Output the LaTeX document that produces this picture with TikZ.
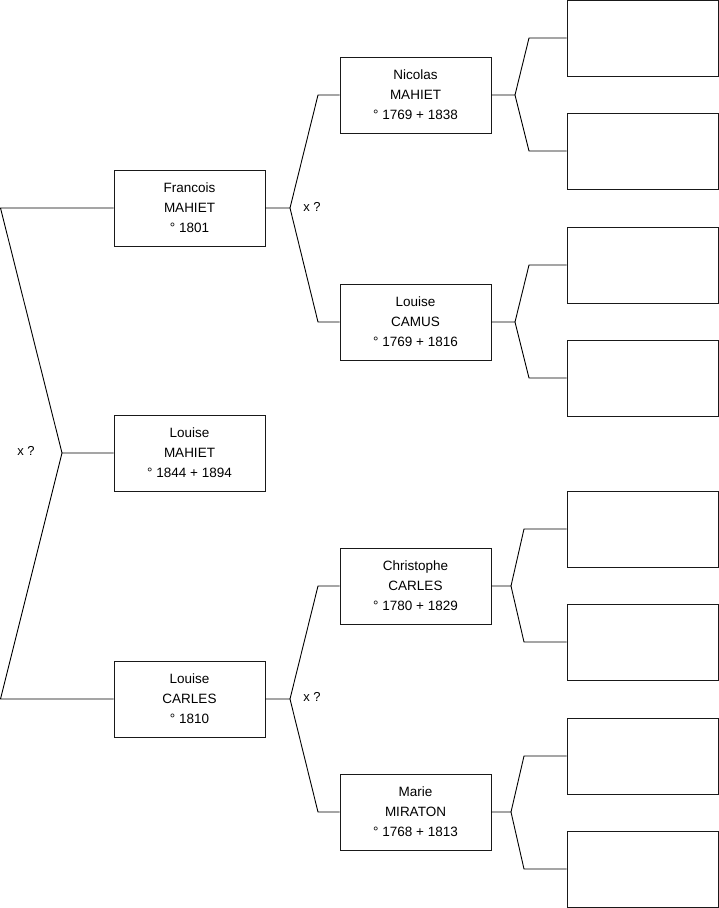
\documentclass[tikz,border=0pt]{standalone}
\usepackage{fontspec}
\setmainfont{Liberation Sans}
\begin{document}
\begin{tikzpicture}[x=1pt,y=-1pt,
  person/.style={draw=black!90,line width=0.9pt,fill=white,minimum width=151pt,minimum height=76pt,inner sep=0pt,align=center,font=\fontsize{13.5}{20}\selectfont},
  link/.style={draw=black,line width=0.9pt},
  marrlabel/.style={font=\fontsize{13}{14}\selectfont,inner sep=0pt}]
\useasboundingbox (0,0) rectangle (719,908);
% generation 1
\node[person] (lm) at (189.5,453) {Louise\\MAHIET\\° 1844 + 1894};
% generation 2
\node[person] (fr) at (189.5,208) {Francois\\MAHIET\\° 1801};
\node[person] (lc) at (189.5,699) {Louise\\CARLES\\° 1810};
% generation 3
\node[person] (nm) at (415.5,95) {Nicolas\\MAHIET\\° 1769 + 1838};
\node[person] (lca) at (415.5,322) {Louise\\CAMUS\\° 1769 + 1816};
\node[person] (cc) at (415.5,586) {Christophe\\CARLES\\° 1780 + 1829};
\node[person] (mm) at (415.5,812) {Marie\\MIRATON\\° 1768 + 1813};
% generation 4 (empty)
\node[person] (e1) at (642.5,38) {};
\node[person] (e2) at (642.5,151) {};
\node[person] (e3) at (642.5,265) {};
\node[person] (e4) at (642.5,378) {};
\node[person] (e5) at (642.5,529) {};
\node[person] (e6) at (642.5,642) {};
\node[person] (e7) at (642.5,756) {};
\node[person] (e8) at (642.5,869) {};
% junction coordinates
\coordinate (j0) at (62,453);
\coordinate (a0) at (0.5,208);
\coordinate (b0) at (0.5,699);
\coordinate (j1) at (290,208);
\coordinate (a1) at (318,95);
\coordinate (b1) at (318,322);
\coordinate (j2) at (290,699);
\coordinate (a2) at (318,586);
\coordinate (b2) at (318,812);
\coordinate (j3) at (515,95);
\coordinate (a3) at (529,38);
\coordinate (b3) at (529,151);
\coordinate (j4) at (515,322);
\coordinate (a4) at (529,265);
\coordinate (b4) at (529,378);
\coordinate (j5) at (511,586);
\coordinate (a5) at (524,529);
\coordinate (b5) at (524,642);
\coordinate (j6) at (511,812);
\coordinate (a6) at (524,756);
\coordinate (b6) at (524,869);
% connectors
\draw[link] (lm.west) -- (j0) -- (a0) -- (fr.west);
\draw[link] (j0) -- (b0) -- (lc.west);
\draw[link] (fr.east) -- (j1) -- (a1) -- (nm.west);
\draw[link] (j1) -- (b1) -- (lca.west);
\draw[link] (lc.east) -- (j2) -- (a2) -- (cc.west);
\draw[link] (j2) -- (b2) -- (mm.west);
\draw[link] (nm.east) -- (j3) -- (a3) -- (e1.west);
\draw[link] (j3) -- (b3) -- (e2.west);
\draw[link] (lca.east) -- (j4) -- (a4) -- (e3.west);
\draw[link] (j4) -- (b4) -- (e4.west);
\draw[link] (cc.east) -- (j5) -- (a5) -- (e5.west);
\draw[link] (j5) -- (b5) -- (e6.west);
\draw[link] (mm.east) -- (j6) -- (a6) -- (e7.west);
\draw[link] (j6) -- (b6) -- (e8.west);
% marriage marks
\node[marrlabel] (m0) at (26,451) {x ?};
\node[marrlabel] (m1) at (312,207) {x ?};
\node[marrlabel] (m2) at (312,697) {x ?};
\end{tikzpicture}
\end{document}
